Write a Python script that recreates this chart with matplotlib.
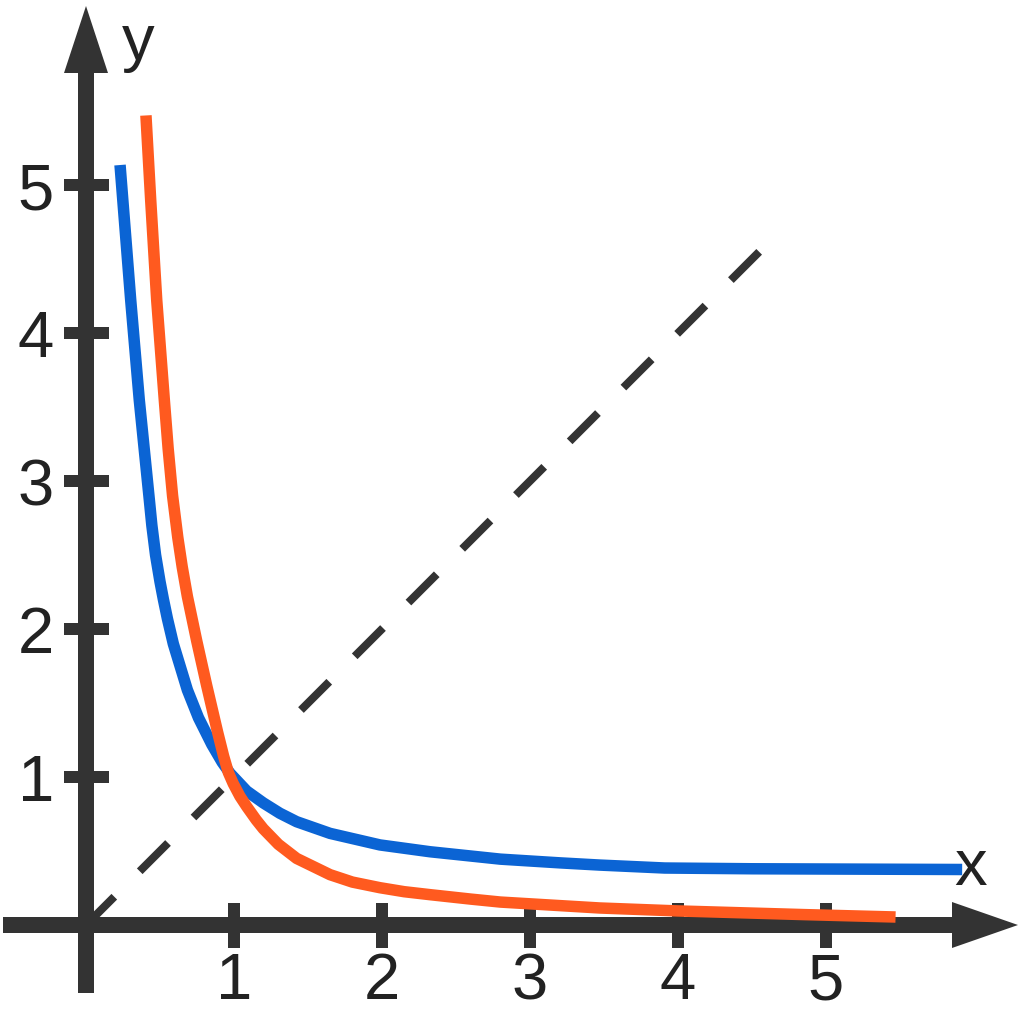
import matplotlib
matplotlib.use("Agg")
import matplotlib.pyplot as plt
from matplotlib.patches import Polygon

plt.rcParams['font.family'] = ['Liberation Sans', 'DejaVu Sans']
plt.rcParams['lines.scale_dashes'] = False

# ---- data ----
blue_x = [0.23, 0.302, 0.36, 0.428, 0.445, 0.47, 0.50, 0.523, 0.55, 0.59, 0.685, 0.76,
          0.85, 0.92, 0.973, 1.086, 1.198, 1.31, 1.423, 1.649, 1.986, 2.324, 2.8, 3.2,
          3.47, 3.91, 4.5, 5.92]
blue_y = [5.135, 4.223, 3.547, 2.872, 2.70, 2.50, 2.32, 2.20, 2.07, 1.90, 1.588, 1.40,
          1.22, 1.10, 1.025, 0.905, 0.825, 0.755, 0.698, 0.619, 0.541, 0.495, 0.445, 0.42,
          0.405, 0.385, 0.38, 0.375]

orange_x = [0.405, 0.437, 0.478, 0.529, 0.555, 0.585, 0.62, 0.65, 0.685, 0.748, 0.815,
            0.89, 0.93, 0.962, 0.995, 1.04, 1.086, 1.15, 1.198, 1.30, 1.423, 1.649,
            1.8, 1.986, 2.15, 2.324, 2.6, 2.8, 3.47, 4.0, 4.86, 5.47]
orange_y = [5.47, 4.90, 4.22, 3.55, 3.22, 2.90, 2.62, 2.42, 2.22, 1.92, 1.62,
            1.30, 1.14, 1.03, 0.955, 0.87, 0.80, 0.71, 0.65, 0.545, 0.45, 0.34,
            0.29, 0.252, 0.225, 0.205, 0.175, 0.155, 0.115, 0.095, 0.07, 0.054]

diag_x = [0.0, 4.57]
diag_y = [0.0, 4.57]

x_ticks = [1, 2, 3, 4, 5]
x_tick_labels = ['1', '2', '3', '4', '5']
y_ticks = [1, 2, 3, 4, 5]
y_tick_labels = ['1', '2', '3', '4', '5']
x_axis_label = 'x'
y_axis_label = 'y'

# ---- styling ----
AX = '#333333'
BLUE = '#0b64d4'
ORANGE = '#ff5a1f'
U = 148.0             # pixels per unit
OX, OY = 86.0, 925.0  # origin in pixels
W, H = 1020, 1013

fig = plt.figure(figsize=(W / 100, H / 100), dpi=100)
ax = fig.add_axes([0, 0, 1, 1])
ax.set_xlim(-OX / U, (W - OX) / U)
ax.set_ylim((OY - H) / U, OY / U)
ax.axis('off')

def px(n):
    return n / U

pt = 0.72  # points per pixel at dpi 100

# dashed diagonal
ax.plot(diag_x, diag_y, color=AX, lw=8 * pt, dashes=(40 * pt, 36 * pt),
        dash_capstyle='butt', zorder=1)

# axes lines
ax.plot([-px(83), px(953 - OX)], [0, 0], color=AX, lw=16 * pt,
        solid_capstyle='butt', zorder=3)
ax.plot([0, 0], [-px(993 - OY), px(OY - 72)], color=AX, lw=16 * pt,
        solid_capstyle='butt', zorder=3)
# arrowheads
ax.add_patch(Polygon([[px(952 - OX), px(23)], [px(1018 - OX), 0], [px(952 - OX), -px(23)]],
                     closed=True, color=AX, lw=0, zorder=3))
ax.add_patch(Polygon([[-px(22), px(OY - 73)], [0, px(OY - 6)], [px(22), px(OY - 73)]],
                     closed=True, color=AX, lw=0, zorder=3))

# ticks
for t in x_ticks:
    ax.plot([t, t], [-px(22.5), px(22.5)], color=AX, lw=12 * pt,
            solid_capstyle='butt', zorder=3)
for t in y_ticks:
    ax.plot([-px(22.5), px(22.5)], [t, t], color=AX, lw=12 * pt,
            solid_capstyle='butt', zorder=3)

# curves
ax.plot(blue_x, blue_y, color=BLUE, lw=11.5 * pt, solid_capstyle='butt',
        solid_joinstyle='round', zorder=4)
ax.plot(orange_x, orange_y, color=ORANGE, lw=11.5 * pt, solid_capstyle='butt',
        solid_joinstyle='round', zorder=5)

# tick labels
FS = 47
for t, lab in zip(x_ticks, x_tick_labels):
    ax.text(t, -px(999 - OY), lab, ha='center', va='baseline', fontsize=FS, color='#222222')
for t, lab in zip(y_ticks, y_tick_labels):
    ax.text(-px(OX - 36), t - px(24), lab, ha='center', va='baseline', fontsize=FS, color='#222222')

ax.text(px(971 - OX), px(OY - 885), x_axis_label, ha='center', va='baseline',
        fontsize=FS, color='#222222', zorder=6)
ax.text(px(138 - OX), px(OY - 60), y_axis_label, ha='center', va='baseline',
        fontsize=FS, color='#222222')

fig.savefig('out.png', dpi=100, facecolor='white')
